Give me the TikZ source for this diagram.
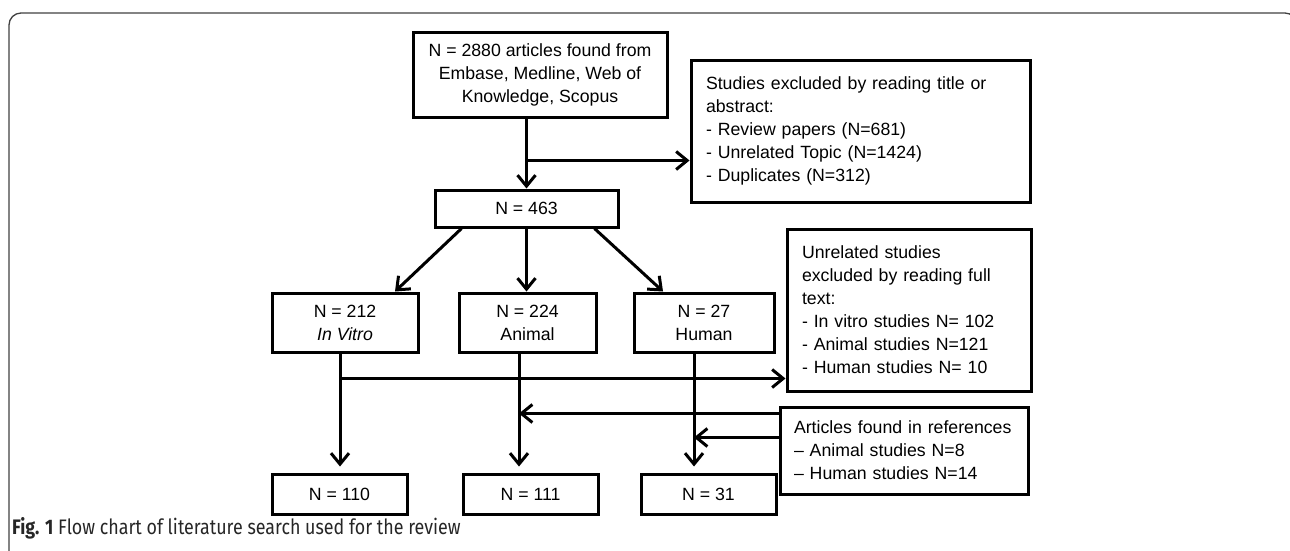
\documentclass[tikz,border=0pt]{standalone}
\usepackage{fontspec}
\setmainfont{Liberation Sans}
\newfontfamily\capfont[FakeStretch=0.85]{Fira Sans}
\usetikzlibrary{
  arrows.meta,
  positioning,
  calc
}

\begin{document}
\begin{tikzpicture}[
  x=1pt,
  y=-1pt,
  box/.style={
    draw,
    line width=3pt,
    align=center,
    inner sep=0pt,
    minimum height=59pt,
    font=\fontsize{17.7}{23}\selectfont
  },
  listbox/.style={
    box,
    align=left,
    inner xsep=15pt
  },
  arrow/.style={
    -{Straight Barb[length=11pt,width=18pt]},
    line width=3pt
  }
]

\useasboundingbox (0,0) rectangle (1290,550);
\clip (0,0) rectangle (1290,550);

% --- figure frame ---
\draw[line width=1.3pt, gray!50!black, rounded corners=12pt]
  (9,13) rectangle (1297,600);

% --- main column ---
\node[box,minimum width=254pt,minimum height=85pt] (search) at (540,74.5)
  {N = 2880 articles found from\\Embase, Medline, Web of\\Knowledge, Scopus};
\node[box,minimum width=183pt,minimum height=37pt,below=70pt of search,xshift=-13.5pt] (screened)
  {N = 463};

\node[box,minimum width=137pt,below=63pt of screened,xshift=1pt] (animal)
  {N = 224\\Animal};
\node[box,minimum width=146pt,left=38pt of animal] (vitro)
  {N = 212\\\textit{In Vitro}};
\node[box,minimum width=140pt,right=35pt of animal] (human)
  {N = 27\\Human};

\node[box,minimum width=135pt,minimum height=40pt,below=119pt of animal,xshift=3pt] (animalN)
  {N = 111};
\node[box,minimum width=135pt,minimum height=40pt,left=53pt of animalN] (vitroN)
  {N = 110};
\node[box,minimum width=135pt,minimum height=40pt,right=40pt of animalN] (humanN)
  {N = 31};

% --- side boxes ---
\node[listbox,text width=309pt,minimum height=142pt,
  right=21pt of search.north east,anchor=north west,yshift=-28pt] (titleout)
  {Studies excluded by reading title or\\abstract:\\- Review papers (N=681)\\- Unrelated Topic (N=1424)\\- Duplicates (N=312)};
\node[listbox,text width=214pt,minimum height=162pt,
  below=24pt of titleout.south east,anchor=north east,xshift=1pt] (fulltext)
  {Unrelated studies\\excluded by reading full\\text:\\- In vitro studies N= 102\\- Animal studies N=121\\- Human studies N= 10};
\node[listbox,inner xsep=14pt,text width=220pt,minimum height=87pt,
  below=13pt of fulltext.south east,anchor=north east,xshift=-3pt] (refs)
  {Articles found in references\\-- Animal studies N=8\\-- Human studies N=14};

% --- screening flow ---
\draw[arrow] (search.south -| screened) -- (screened.north);
\coordinate (split1) at ($(search.south -| screened)+(0,42)$);
\draw[arrow] (split1) -- (split1 -| titleout.west);

\draw[arrow] ($(screened.south west)+(28,0)$) -- ($(vitro.north)+(50,0)$);
\draw[arrow] (screened.south) -- (screened.south |- animal.north);
\draw[arrow] ($(screened.south east)+(-25,0)$) -- ($(human.north)+(-41,0)$);

% --- full-text flow ---
\coordinate (vitroLine) at ($(vitro.south)+(-5,0)$);
\coordinate (animalLine) at ($(animal.south)+(-8.5,0)$);
\coordinate (humanLine) at ($(human.south)+(-10,0)$);
\draw[arrow,shorten >=6pt] (vitroLine) -- (vitroLine |- vitroN.north);
\draw[arrow,shorten >=6pt] (animalLine) -- (animalLine |- animalN.north);
\draw[arrow,shorten >=6pt] (humanLine) -- (humanLine |- humanN.north);

\coordinate (split2) at ($(vitroLine)+(0,25)$);
\draw[arrow] (split2) -- (split2 -| fulltext.west);

% articles added from references
\coordinate (refsA) at ($(refs.north west)+(0,8)$);
\coordinate (refsH) at ($(refs.north west)+(0,32)$);
\draw[arrow] (refsA) -- (refsA -| animalLine);
\draw[arrow] (refsH) -- (refsH -| humanLine);

% --- caption ---
\node[anchor=base west,inner sep=0pt,font=\capfont\fontsize{21}{25}\selectfont,text=black!85] (caption) at (12,534)
  {\textbf{Fig. 1} Flow chart of literature search used for the review};

\end{tikzpicture}
\end{document}
